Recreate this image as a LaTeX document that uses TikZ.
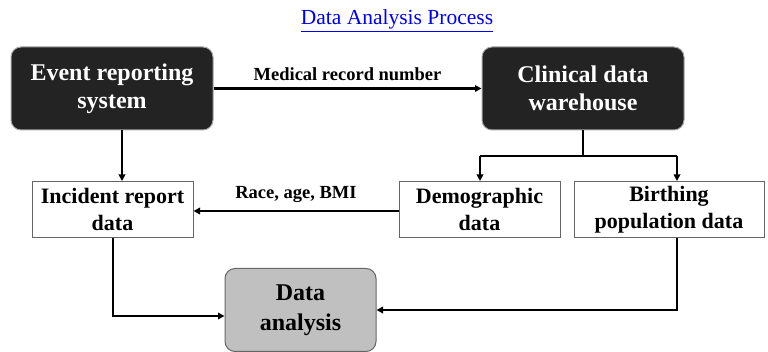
\documentclass[tikz,border=0pt]{standalone}
\usepackage{fontspec}
\setmainfont{Liberation Serif}
\usetikzlibrary{arrows.meta}
\definecolor{darkbox}{HTML}{232323}
\definecolor{greybox}{HTML}{C0C0C0}
\definecolor{linkblue}{HTML}{0000EE}
\tikzset{
  darkstep/.style={draw=gray!70, line width=1pt, fill=darkbox, rounded corners=10pt,
    text=white, font=\bfseries\fontsize{24}{28}\selectfont, align=center,
    minimum width=202pt, minimum height=83pt, inner sep=0pt},
  whitestep/.style={draw=gray!80!black, line width=1pt, fill=white,
    font=\bfseries\fontsize{22}{27}\selectfont, align=center,
    minimum height=56pt, inner sep=0pt},
  greystep/.style={draw=gray!80!black, line width=1pt, fill=greybox, rounded corners=10pt,
    font=\bfseries\fontsize{24}{30}\selectfont, align=center,
    minimum width=151pt, minimum height=83pt, inner sep=0pt},
  conn/.style={line width=2.5pt, -{Triangle[length=6.5pt,width=6.5pt]}},
  plainconn/.style={line width=2.5pt},
  elabel/.style={font=\bfseries\fontsize{18.5}{20}\selectfont, inner sep=0pt}
}
\begin{document}
\begin{tikzpicture}[x=1pt,y=-1pt]
\useasboundingbox (0,0) rectangle (768,352);
% title
\node[anchor=base, text=linkblue, font=\fontsize{21.5}{24}\selectfont, inner sep=0pt] (title) at (397,25) {\underline{Data Analysis Process}};
% nodes
\node[darkstep] (ers) at (112,88.5) {Event reporting\\system};
\node[darkstep] (cdw) at (583,88.5) {Clinical data\\warehouse};
\node[whitestep, minimum width=161pt] (ird) at (112.5,209.5) {Incident report\\data};
\node[whitestep, minimum width=161pt] (dem) at (479.5,209.5) {Demographic\\data};
\node[whitestep, minimum width=190pt] (bir) at (669,209.5) {Birthing\\population data};
\node[greystep] (da) at (300.5,310) {Data\\analysis};
% helper coordinates
\coordinate (x1) at (122,0);
\coordinate (x2) at (480,0);
\coordinate (x3) at (677,0);
\coordinate (x4) at (113,0);
\coordinate (hy) at (0,156);
\coordinate (ly) at (0,316);
% connectors
\draw[conn] (ers.east) -- node[elabel, above=7pt] (mrn) {Medical record number} (cdw.west);
\draw[conn] (ers.south -| x1) -- (ird.north -| x1);
\draw[plainconn] (cdw.south) -- (cdw.south |- hy);
\draw[conn] (hy -| x2) -- (dem.north -| x2);
\draw[conn] (hy -| x3) -- (bir.north -| x3);
\draw[plainconn] (hy -| x2) -- (hy -| x3);
\draw[conn] (dem.west |- 0,211) -- node[elabel, above=7pt] (rab) {Race, age, BMI} (ird.east |- 0,211);
\draw[conn] (ird.south -| x4) -- (ly -| x4) -- (da.west |- ly);
\draw[conn] (bir.south -| x3) -- (da.center -| x3) -- (da.east);
\end{tikzpicture}
\end{document}
